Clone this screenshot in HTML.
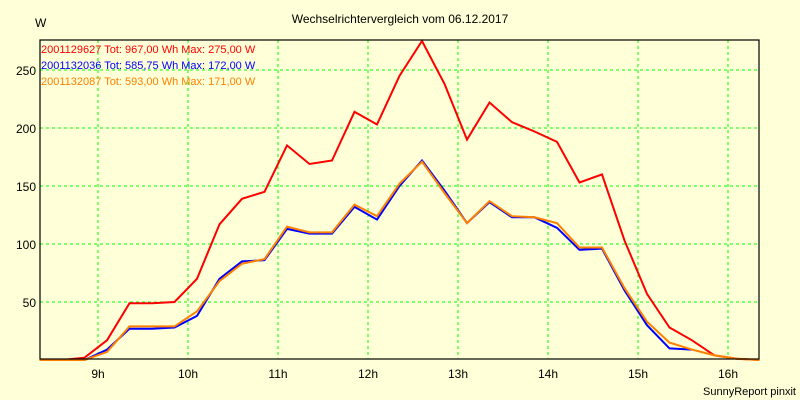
<!DOCTYPE html>
<html><head><meta charset="utf-8"><style>
body{margin:0;background:#ffffd8;}
svg{display:block;font-family:"Liberation Sans",sans-serif;}
</style></head><body>
<svg id="chart" width="800" height="400" viewBox="0 0 800 400">
<rect x="0" y="0" width="800" height="400" fill="#ffffd8"/>
<text x="400" y="23" text-anchor="middle" font-size="12">Wechselrichtervergleich vom 06.12.2017</text>
<text x="35" y="27" font-size="12">W</text>
<g id="grid"></g>
<g id="lines"></g>
<rect x="40" y="40" width="719" height="319" fill="none" stroke="#000" stroke-width="1.2"/>
<g id="axes"></g>
<text x="41" y="53" font-size="11" fill="#ff0000">2001129627 Tot: 967,00 Wh Max: 275,00 W</text>
<text x="41" y="69" font-size="11" fill="#0000ff">2001132036 Tot: 585,75 Wh Max: 172,00 W</text>
<text x="41" y="85" font-size="11" fill="#ff8000">2001132087 Tot: 593,00 Wh Max: 171,00 W</text>
<text x="796" y="395" text-anchor="end" font-size="11">SunnyReport pinxit</text>
</svg>
<script>
const startHour = 8.35;
const stepHours = 0.25;
const redValues = [0,0,2,17,49,49,50,70,117,139,145,185,169,172,214,203,245,275,238,190,222,205,197,188,153,160,103,57,28,17,4,1,0];
const blueValues = [0,0,0,9,27,27,28,38,70,85,86,113,109,109,132,121,150,172,146,118,136,123,123,114,95,96,60,30,10,9];
const orangeValues = [0,0,0,7,29,29,29,42,68,83,87,115,110,110,134,124,152,171,144,118,137,124,123,118,97,97,62,33,15,9,4,1,0];
const xTicks = [9,10,11,12,13,14,15,16];
const xTickLabels = ["9h","10h","11h","12h","13h","14h","15h","16h"];
const yTicks = [50,100,150,200,250];

const X = h => 98 + (h - 9) * 90;
const Y = v => 360 - v * 1.16;
const NS = "http://www.w3.org/2000/svg";
function mk(tag, attrs, parent){const e=document.createElementNS(NS,tag);for(const k in attrs)e.setAttribute(k,attrs[k]);parent.appendChild(e);return e;}
const grid=document.getElementById('grid'), axes=document.getElementById('axes'), lines=document.getElementById('lines');
xTicks.forEach((h,i)=>{
  const l=mk('line',{x1:X(h),x2:X(h),y1:40,y2:359,stroke:'#00ff00','stroke-dasharray':'3,3','stroke-width':1},grid);
  
  
  const t=mk('text',{x:X(h),y:378,'text-anchor':'middle','font-size':12},axes);
  t.textContent=xTickLabels[i];
  
  
});
yTicks.forEach(v=>{
  const l=mk('line',{x1:40,x2:759,y1:Y(v),y2:Y(v),stroke:'#00ff00','stroke-dasharray':'3,3','stroke-width':1},grid);
  
  
  const t=mk('text',{x:36,y:Y(v)+5,'text-anchor':'end','font-size':12},axes);
  t.textContent=v;
  
  
});
function series(vals,color,name){
  const pts=vals.map((v,i)=>X(startHour+i*stepHours).toFixed(1)+','+Y(v).toFixed(1)).join(' ');
  const p=mk('polyline',{points:pts,fill:'none',stroke:color,'stroke-width':2},lines);
  
  
}
series(redValues,'#ff0000','series-2001129627');
series(blueValues,'#0000ff','series-2001132036');
series(orangeValues,'#ff8000','series-2001132087');
</script>
</body></html>
